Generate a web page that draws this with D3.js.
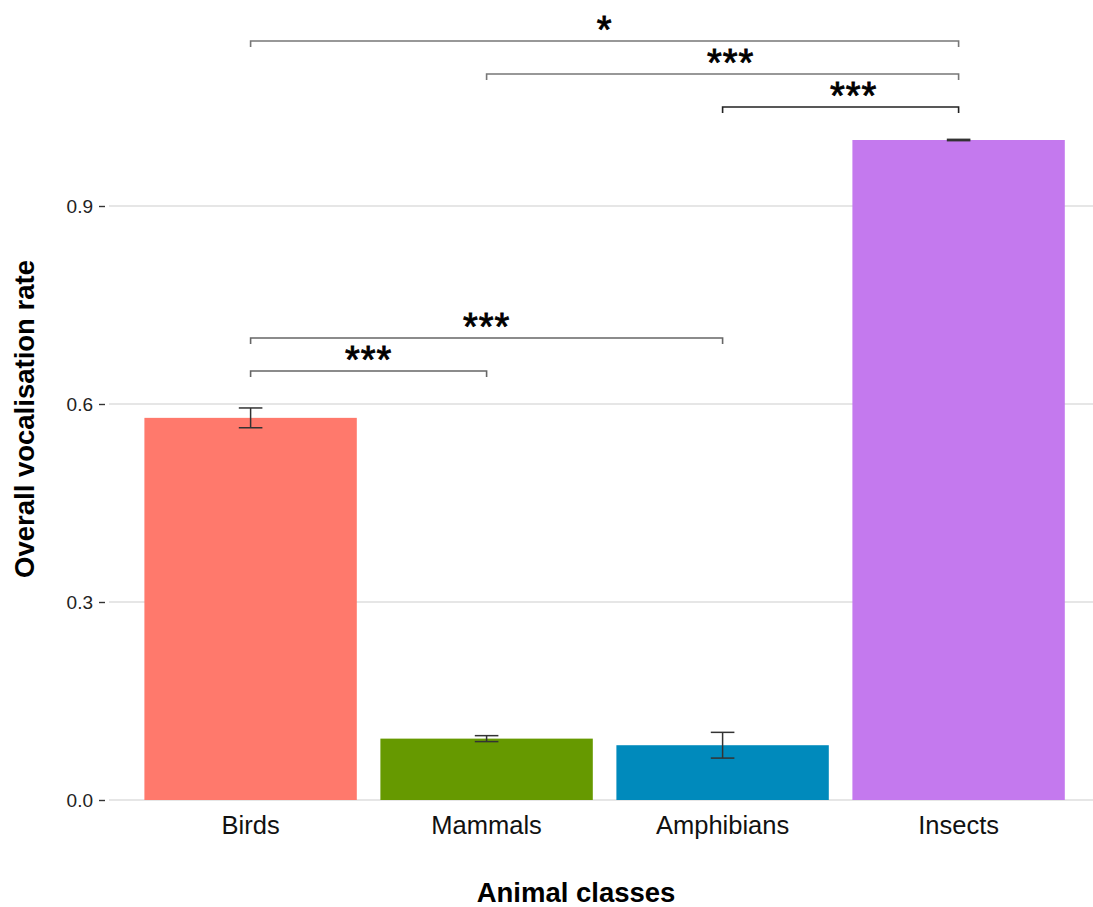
<!DOCTYPE html>
<html>
<head>
<meta charset="utf-8">
<script src="https://cdn.jsdelivr.net/npm/d3@7"></script>
<style>
  html, body { margin: 0; padding: 0; background: #fff; }
  svg { display: block; font-family: "Liberation Sans", Arial, sans-serif; }
</style>
</head>
<body>
<svg id="chart" width="1093" height="907"></svg>
<script>
// Mean overall vocalisation rate per animal class, with standard errors
const categories = ["Birds", "Mammals", "Amphibians", "Insects"];
const meanRate = [0.579, 0.093, 0.083, 1.0];
const stdErr = [0.015, 0.0045, 0.0195, 0.001];
const yTicks = [0.0, 0.3, 0.6, 0.9];

// Pairwise comparisons: [from, to, bracket height, label]
const pairFrom = ["Birds", "Mammals", "Amphibians", "Birds", "Birds"];
const pairTo = ["Insects", "Insects", "Insects", "Amphibians", "Mammals"];
const pairHeight = [1.15, 1.10, 1.05, 0.70, 0.65];
const pairLabel = ["*", "***", "***", "***", "***"];

// Look of the chart
const barColors = ["#FF796C", "#669900", "#008ABC", "#C479EE"];
const bracketColors = ["#777", "#777", "#222", "#666", "#666"];
const labelNudge = [0, 8, 13, 0, 0];

const svg = d3.select("#chart");
const W = 1093, H = 907;
const panelLeft = 109, panelRight = 1100.2;

const x = d3.scaleBand()
  .domain(categories)
  .range([panelLeft, panelRight])
  .paddingInner(0.1)
  .paddingOuter(0.15);

const y = d3.scaleLinear().domain([0, 1]).range([800, 140]);

const color = d3.scaleOrdinal().domain(categories).range(barColors);

// horizontal grid lines
svg.append("g").selectAll("line")
  .data(yTicks)
  .join("line")
  .attr("x1", panelLeft).attr("x2", W)
  .attr("y1", d => y(d)).attr("y2", d => y(d))
  .attr("stroke", "#dedede")
  .attr("stroke-width", 1.3);

// y axis tick labels and dash marks
const yAxis = d3.axisLeft(y)
  .tickValues(yTicks)
  .tickFormat(d3.format(".1f"))
  .tickSize(6)
  .tickPadding(6);
const gy = svg.append("g")
  .attr("transform", `translate(${panelLeft - 4},0)`)
  .call(yAxis);
gy.select(".domain").remove();
gy.selectAll(".tick line").attr("stroke", "#333").attr("stroke-width", 1.4);
gy.selectAll(".tick text")
  .attr("fill", "#222")
  .attr("font-size", 19)
  .attr("font-family", "'Liberation Sans', Arial, sans-serif");

// bars
const rows = categories.map((c, i) => ({ cat: c, mean: meanRate[i], se: stdErr[i] }));
svg.append("g").selectAll("rect")
  .data(rows)
  .join("rect")
  .attr("x", d => x(d.cat))
  .attr("width", x.bandwidth())
  .attr("y", d => y(d.mean))
  .attr("height", d => y(0) - y(d.mean))
  .attr("fill", d => color(d.cat));

// error bars
const capHalf = x.step() * 0.05;
const eb = svg.append("g")
  .attr("stroke", "#333")
  .attr("stroke-width", 1.5)
  .selectAll("g")
  .data(rows)
  .join("g");
eb.append("line")
  .attr("x1", d => x(d.cat) + x.bandwidth() / 2)
  .attr("x2", d => x(d.cat) + x.bandwidth() / 2)
  .attr("y1", d => y(d.mean - d.se))
  .attr("y2", d => y(d.mean + d.se));
eb.selectAll("line.cap")
  .data(d => [d.mean - d.se, d.mean + d.se].map(v => ({ cat: d.cat, v })))
  .join("line")
  .attr("class", "cap")
  .attr("x1", d => x(d.cat) + x.bandwidth() / 2 - capHalf)
  .attr("x2", d => x(d.cat) + x.bandwidth() / 2 + capHalf)
  .attr("y1", d => y(d.v))
  .attr("y2", d => y(d.v));

// x axis category labels
const xAxis = d3.axisBottom(x).tickSize(0).tickPadding(0);
const gx = svg.append("g")
  .attr("transform", `translate(0,${y(0)})`)
  .call(xAxis);
gx.select(".domain").remove();
gx.selectAll(".tick text")
  .attr("y", 0)
  .attr("dy", 34)
  .attr("fill", "#111")
  .attr("font-size", 25.5)
  .attr("font-family", "'Liberation Sans', Arial, sans-serif");

// significance brackets
const tip = 6;
const mid = c => x(c) + x.bandwidth() / 2;
const brackets = pairFrom.map((f, i) => ({
  x1: mid(f), x2: mid(pairTo[i]), h: pairHeight[i], label: pairLabel[i],
  stroke: bracketColors[i], nudge: labelNudge[i]
}));
const bg = svg.append("g").selectAll("g").data(brackets).join("g");
bg.append("path")
  .attr("fill", "none")
  .attr("stroke", d => d.stroke)
  .attr("stroke-width", 1.6)
  .attr("d", d => `M${d.x1},${y(d.h) + tip}V${y(d.h)}H${d.x2}V${y(d.h) + tip}`);
bg.append("text")
  .attr("x", d => (d.x1 + d.x2) / 2 + d.nudge)
  .attr("y", d => y(d.h) + 2)
  .attr("text-anchor", "middle")
  .attr("font-size", 38)
  .attr("letter-spacing", 1)
  .attr("fill", "#000")
  .attr("stroke", "#000")
  .attr("stroke-width", 0.9)
  .text(d => d.label);

// axis titles
svg.append("text")
  .attr("x", 576)
  .attr("y", 902)
  .attr("text-anchor", "middle")
  .attr("font-size", 27.5)
  .attr("font-weight", "bold")
  .attr("fill", "#000")
  .text("Animal classes");

svg.append("text")
  .attr("transform", "translate(34,419) rotate(-90)")
  .attr("text-anchor", "middle")
  .attr("font-size", 27.5)
  .attr("font-weight", "bold")
  .attr("fill", "#000")
  .text("Overall vocalisation rate");
</script>
</body>
</html>
